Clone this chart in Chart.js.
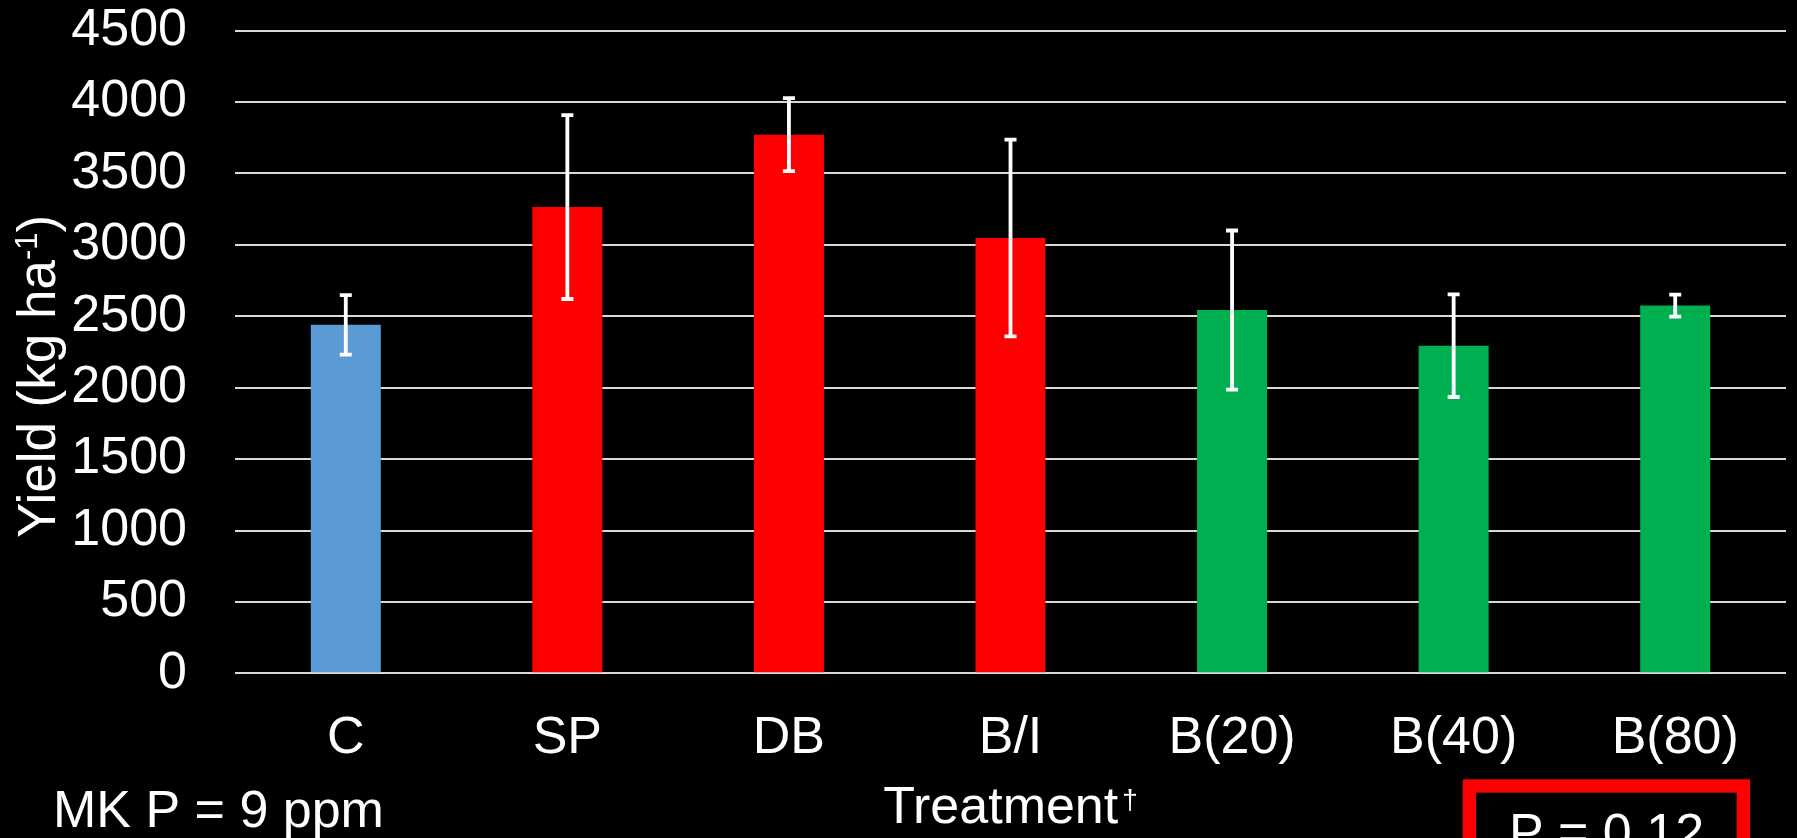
<!DOCTYPE html>
<html>
<head>
<meta charset="utf-8">
<title>Yield by treatment</title>
<script src="https://cdn.jsdelivr.net/npm/chart.js@4.4.0/dist/chart.umd.min.js"></script>
<style>
  html, body { margin: 0; padding: 0; background: #000; }
  #wrap { width: 1797px; height: 838px; position: relative; overflow: hidden; }
  canvas { display: block; }
</style>
</head>
<body>
<div id="wrap"><canvas id="chart" width="1797" height="838"></canvas></div>
<script>
// Treatments and mean yield (kg/ha) with error half-widths
const treatments = ['C', 'SP', 'DB', 'B/I', 'B(20)', 'B(40)', 'B(80)'];
const yieldMeans = [2440, 3265, 3772, 3048, 2544, 2294, 2575];
const yieldErrors = [208, 644, 256, 689, 557, 359, 77];
const barColors = ['#5B9BD5', '#FF0000', '#FF0000', '#FF0000', '#00B050', '#00B050', '#00B050'];
const yAxisMin = 0;
const yAxisMax = 4500;
const yAxisStep = 500;

const FONT = '"Liberation Sans", Arial, sans-serif';

// Paint the black slide background
const backgroundPlugin = {
  id: 'background',
  beforeDraw(chart) {
    const ctx = chart.ctx;
    ctx.save();
    ctx.fillStyle = '#000';
    ctx.fillRect(0, 0, chart.width, chart.height);
    ctx.restore();
  }
};

// White error bars with caps, positioned through the value scale
const errorBarPlugin = {
  id: 'errorBars',
  afterDatasetsDraw(chart) {
    const ctx = chart.ctx;
    const yScale = chart.scales.y;
    const meta = chart.getDatasetMeta(0);
    ctx.save();
    ctx.strokeStyle = '#FFFFFF';
    ctx.lineWidth = 3.8;
    ctx.lineCap = 'butt';
    const capHalf = 6;
    meta.data.forEach((bar, i) => {
      const m = yieldMeans[i];
      const e = yieldErrors[i];
      const yTop = yScale.getPixelForValue(m + e);
      const yBot = yScale.getPixelForValue(m - e);
      const x = bar.x;
      ctx.beginPath();
      ctx.moveTo(x, yTop);
      ctx.lineTo(x, yBot);
      ctx.moveTo(x - capHalf, yTop);
      ctx.lineTo(x + capHalf, yTop);
      ctx.moveTo(x - capHalf, yBot);
      ctx.lineTo(x + capHalf, yBot);
      ctx.stroke();
    });
    ctx.restore();
  }
};

// Axis titles with superscripts, site note and the P-value box
const textPlugin = {
  id: 'slideText',
  afterDraw(chart) {
    const ctx = chart.ctx;
    const area = chart.chartArea;
    ctx.save();
    ctx.fillStyle = '#FFFFFF';
    ctx.textBaseline = 'alphabetic';

    // Y axis title: Yield (kg ha^-1)
    ctx.save();
    ctx.translate(55, 538);
    ctx.rotate(-Math.PI / 2);
    ctx.textAlign = 'left';
    let x = 0;
    ctx.font = '53px ' + FONT;
    const mainPart = 'Yield (kg ha';
    ctx.fillText(mainPart, x, 0);
    x += ctx.measureText(mainPart).width;
    ctx.font = '31px ' + FONT;
    ctx.fillText('-1', x, -18);
    x += ctx.measureText('-1').width;
    ctx.font = '53px ' + FONT;
    ctx.fillText(')', x, 0);
    ctx.restore();

    // X axis title: Treatment with dagger
    const cx = (area.left + area.right) / 2;
    ctx.font = '52px ' + FONT;
    const word = 'Treatment';
    const wWord = ctx.measureText(word).width;
    ctx.font = '28px ' + FONT;
    const wDag = ctx.measureText('\u2020').width;
    const startX = cx - (wWord + wDag + 4) / 2;
    ctx.font = '52px ' + FONT;
    ctx.textAlign = 'left';
    ctx.fillText(word, startX, 823);
    ctx.font = '28px ' + FONT;
    ctx.fillText('\u2020', startX + wWord + 4, 809);

    // Soil test note
    ctx.font = '52px ' + FONT;
    ctx.fillText('MK P = 9 ppm', 53, 827);

    // P-value box (runs off the bottom edge)
    ctx.strokeStyle = '#FF0000';
    ctx.lineWidth = 13.3;
    ctx.strokeRect(1469.4, 786, 274, 120);
    ctx.textAlign = 'center';
    ctx.fillStyle = '#FFFFFF';
    ctx.fillText('P = 0.12', 1606.5, 850);

    ctx.restore();
  }
};

new Chart(document.getElementById('chart'), {
  type: 'bar',
  data: {
    labels: treatments,
    datasets: [{
      data: yieldMeans,
      backgroundColor: barColors,
      borderWidth: 0,
      barPercentage: 0.316,
      categoryPercentage: 1.0
    }]
  },
  options: {
    responsive: false,
    animation: false,
    devicePixelRatio: 1,
    layout: { padding: { top: 30.7, right: 11, left: 0, bottom: 0 } },
    plugins: {
      legend: { display: false },
      tooltip: { enabled: false },
      title: { display: false }
    },
    scales: {
      x: {
        grid: { display: false, drawTicks: false },
        border: { display: false },
        ticks: {
          color: '#FFFFFF',
          font: { family: FONT, size: 52, lineHeight: 1.0 },
          padding: 39,
          maxRotation: 0,
          autoSkip: false
        },
        afterFit(scale) {
          scale.height = 164.7;
          scale.paddingLeft = 0;
          scale.paddingRight = 0;
        }
      },
      y: {
        min: yAxisMin,
        max: yAxisMax,
        grid: { color: '#D9D9D9', lineWidth: 2, drawTicks: false },
        border: { display: false },
        ticks: {
          stepSize: yAxisStep,
          color: '#FFFFFF',
          font: { family: FONT, size: 52, lineHeight: 1.0 },
          padding: 48,
          callback: (v) => String(v)
        },
        afterFit(scale) {
          scale.width = 235;
          scale.paddingTop = 0;
          scale.paddingBottom = 0;
        }
      }
    }
  },
  plugins: [backgroundPlugin, errorBarPlugin, textPlugin]
});
</script>
</body>
</html>
